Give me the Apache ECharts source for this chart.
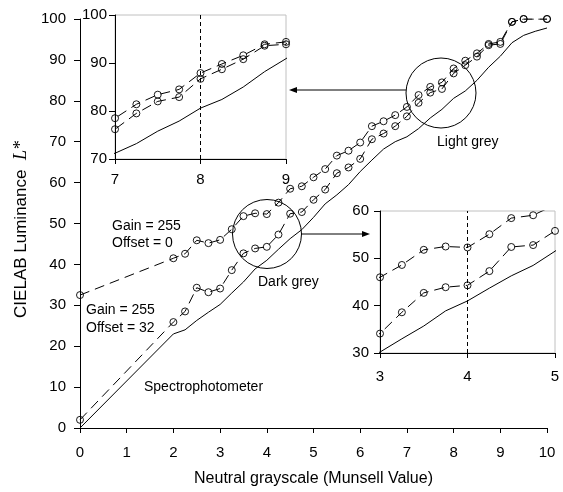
<!DOCTYPE html>
<html>
<head>
<meta charset="utf-8">
<script src="https://cdn.jsdelivr.net/npm/echarts@6/dist/echarts.min.js"></script>
<style>
  html, body { margin: 0; padding: 0; background: #fff; }
  #chart { width: 563px; height: 492px; }
</style>
</head>
<body>
<div id="chart"></div>
<script>
// Munsell values where the camera readings were taken
var markerX = [0, 2, 2.25, 2.5, 2.75, 3, 3.25, 3.5, 3.75, 4, 4.25, 4.5, 4.75, 5, 5.25, 5.5, 5.75,
    6, 6.25, 6.5, 6.75, 7, 7.25, 7.5, 7.75, 8, 8.25, 8.5, 8.75, 9, 9.25, 9.5, 10];
var upperL = [32.5, 41.5, 42.6, 45.9, 45.2, 46.0, 48.6, 51.8, 52.5, 52.3, 55.1, 58.5, 59.1, 61.3, 63.3, 66.6, 67.8,
    69.8, 73.8, 75.0, 76.5, 78.5, 81.4, 83.4, 84.5, 87.9, 89.8, 91.6, 93.9, 94.4, 99.3, 100, 100];
var lowerL = [2.0, 25.9, 28.5, 34.3, 33.2, 34.1, 38.6, 42.7, 43.9, 44.3, 47.3, 52.4, 52.8, 55.8, 58.3, 62.3, 63.7,
    65.8, 70.6, 72.0, 73.8, 76.2, 79.5, 82.0, 82.9, 86.7, 88.7, 90.8, 93.6, 93.9, 99.3, 100, 100];
// spectrophotometer reference
var spectroX = [0, 2, 2.25, 2.5, 2.75, 3, 3.25, 3.5, 3.75, 4, 4.25, 4.5, 4.75, 5, 5.25, 5.5, 5.75,
    6, 6.25, 6.5, 6.75, 7, 7.25, 7.5, 7.75, 8, 8.25, 8.5, 8.75, 9, 9.25, 9.5, 9.75, 10];
var spectroL = [0, 23.0, 24.0, 26.3, 28.3, 30.2, 33.0, 35.7, 38.9, 41.0, 43.7, 46.3, 48.5, 51.5, 54.8, 57.0, 59.5,
    62.7, 65.5, 68.2, 70.0, 71.2, 73.2, 75.8, 77.9, 80.6, 82.4, 85.0, 88.2, 90.9, 94.2, 96.0, 97.0, 97.8];
var xTicks = [0, 10, 1];      // main x min, max, step
var yTicks = [0, 100, 10];
var lightInset = { x: [7, 9], y: [70, 100], mark: 8 };
var darkInset = { x: [3, 5], y: [30, 60], mark: 4 };

var font = 'Liberation Sans, Arial, sans-serif';

function pairs(xs, ys) {
    return xs.map(function (x, i) { return [x, ys[i]]; });
}

function seriesFor(idx, mark) {
    var markerStyle = {
        color: 'rgba(0,0,0,0)',
        borderColor: '#000',
        borderWidth: 0.9
    };
    var s = [{
        type: 'line',
        xAxisIndex: idx, yAxisIndex: idx,
        data: pairs(spectroX, spectroL),
        showSymbol: false,
        lineStyle: { color: '#000', width: 1 }
    }, {
        type: 'line',
        xAxisIndex: idx, yAxisIndex: idx,
        data: pairs(markerX, upperL),
        symbol: 'circle', symbolSize: 7,
        itemStyle: markerStyle,
        lineStyle: { color: '#000', width: 1, type: [10, 6] }
    }, {
        type: 'line',
        xAxisIndex: idx, yAxisIndex: idx,
        data: pairs(markerX, lowerL),
        symbol: 'circle', symbolSize: 7,
        itemStyle: markerStyle,
        lineStyle: { color: '#000', width: 1, type: [10, 6] }
    }];
    if (mark != null) {
        s[0].markLine = {
            silent: true,
            symbol: 'none',
            label: { show: false },
            lineStyle: { color: '#000', width: 1, type: [4, 3] },
            data: [{ xAxis: mark }]
        };
    }
    return s;
}

function axisX(idx, range, step, fs, margin) {
    return {
        type: 'value', gridIndex: idx,
        min: range[0], max: range[1], interval: step,
        splitLine: { show: false },
        axisLine: { onZero: false, lineStyle: { color: '#000', width: 1 } },
        axisTick: { length: 5, lineStyle: { color: '#000' } },
        axisLabel: { color: '#000', fontSize: fs, fontFamily: font, margin: margin }
    };
}
function axisY(idx, range, step, fs, margin) {
    return {
        type: 'value', gridIndex: idx,
        min: range[0], max: range[1], interval: step,
        splitLine: { show: false },
        axisLine: { show: true, onZero: false, lineStyle: { color: '#000', width: 1 } },
        axisTick: { show: true, length: 6, lineStyle: { color: '#000' } },
        axisLabel: { color: '#000', fontSize: fs, fontFamily: font, margin: margin }
    };
}

var xMain = axisX(0, [xTicks[0], xTicks[1]], xTicks[2], 15, 17);
xMain.name = 'Neutral grayscale (Munsell Value)';
xMain.nameLocation = 'middle';
xMain.nameGap = 43;
xMain.nameTextStyle = { color: '#000', fontSize: 16, fontFamily: font };

var yMain = axisY(0, [yTicks[0], yTicks[1]], yTicks[2], 15, 14);
yMain.name = 'CIELAB Luminance  {i|L*}';
yMain.nameLocation = 'middle';
yMain.nameGap = 47;
yMain.nameTextStyle = {
    color: '#000', fontSize: 17, fontFamily: font,
    rich: {
        i: {
            fontFamily: 'Liberation Serif, Times New Roman, serif', fontStyle: 'italic',
            fontSize: 18, color: '#000', padding: [0, 12, 0, 0]
        }
    }
};

var insetGrid = { show: true, borderColor: '#c0c0c0', borderWidth: 1, backgroundColor: 'rgba(0,0,0,0)' };

var option = {
    animation: false,
    backgroundColor: '#fff',
    grid: [
        { left: 80, right: 16, top: 19, bottom: 60 },
        Object.assign({ left: 115, width: 171, top: 15, height: 144 }, insetGrid),
        Object.assign({ left: 380, width: 175, top: 211, height: 142 }, insetGrid)
    ],
    xAxis: [
        xMain,
        axisX(1, lightInset.x, 1, 15, 13),
        axisX(2, darkInset.x, 1, 15, 16)
    ],
    yAxis: [
        yMain,
        axisY(1, lightInset.y, 10, 15, 8),
        axisY(2, darkInset.y, 10, 15, 11)
    ],
    series: [].concat(seriesFor(0, null), seriesFor(1, lightInset.mark), seriesFor(2, darkInset.mark)),
    graphic: [
        { type: 'circle', shape: { cx: 441, cy: 93, r: 35 }, style: { fill: 'none', stroke: '#000', lineWidth: 1 } },
        { type: 'circle', shape: { cx: 267, cy: 234, r: 34.5 }, style: { fill: 'none', stroke: '#000', lineWidth: 1 } },
        { type: 'line', shape: { x1: 406, y1: 90, x2: 294, y2: 90 }, style: { stroke: '#000', lineWidth: 1 } },
        { type: 'polygon', shape: { points: [[289, 90], [297, 87], [297, 93]] }, style: { fill: '#000' } },
        { type: 'line', shape: { x1: 301, y1: 234, x2: 365, y2: 234 }, style: { stroke: '#000', lineWidth: 1 } },
        { type: 'polygon', shape: { points: [[370, 234], [362, 231], [362, 237]] }, style: { fill: '#000' } },
        { type: 'text', x: 112, y: 226, style: { text: 'Gain = 255', font: '14px ' + font, fill: '#000', verticalAlign: 'middle' } },
        { type: 'text', x: 112, y: 243, style: { text: 'Offset = 0', font: '14px ' + font, fill: '#000', verticalAlign: 'middle' } },
        { type: 'text', x: 86, y: 310, style: { text: 'Gain = 255', font: '14px ' + font, fill: '#000', verticalAlign: 'middle' } },
        { type: 'text', x: 86, y: 328, style: { text: 'Offset = 32', font: '14px ' + font, fill: '#000', verticalAlign: 'middle' } },
        { type: 'text', x: 144, y: 387, style: { text: 'Spectrophotometer', font: '14px ' + font, fill: '#000', verticalAlign: 'middle' } },
        { type: 'text', x: 437, y: 142, style: { text: 'Light grey', font: '14px ' + font, fill: '#000', verticalAlign: 'middle' } },
        { type: 'text', x: 258, y: 282, style: { text: 'Dark grey', font: '14px ' + font, fill: '#000', verticalAlign: 'middle' } }
    ]
};

var myChart = echarts.init(document.getElementById('chart'));
myChart.setOption(option);
</script>
</body>
</html>
